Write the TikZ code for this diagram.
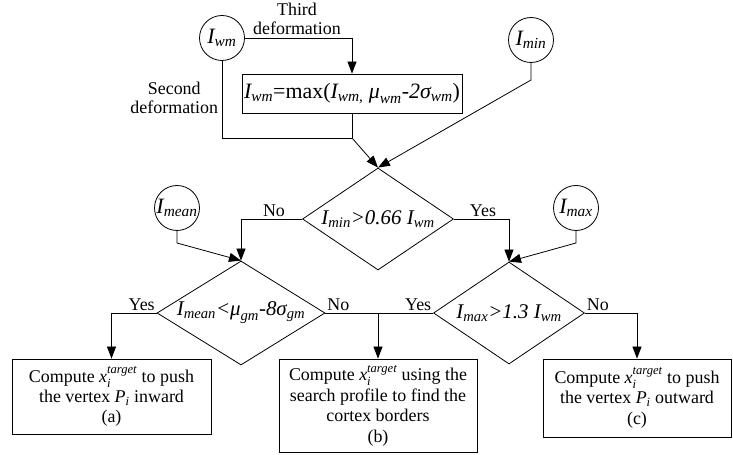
\documentclass[tikz,border=0pt]{standalone}
\usepackage{amsmath}
\usepackage{fontspec}
\setmainfont{Liberation Serif}
\usetikzlibrary{arrows.meta,shapes.geometric}
\newcommand{\vr}[2]{$\textit{#1}_{\textit{#2}}$}
\newcommand{\tgt}{$\textit{x}_{\textit{i}}^{\textit{target}}$}
\tikzset{
  circ/.style={draw, circle, minimum size=45bp, inner sep=0pt, font=\fontsize{22}{24}\selectfont},
  box/.style={draw, align=center, inner sep=0pt, font=\fontsize{18}{20.5}\selectfont},
  dia/.style={draw, diamond, inner sep=0pt},
  diatext/.style={font=\fontsize{21}{24}\selectfont\itshape, inner sep=0pt},
  lbl/.style={font=\fontsize{18}{19}\selectfont, align=center, inner sep=1.5bp},
  arrow/.style={-{Triangle[length=12bp,width=9bp]}}
}

\begin{document}
\begin{tikzpicture}[x=1bp, y=-1bp, line width=0.8bp]
  \useasboundingbox (0,0) rectangle (733,455);
  % inputs
  \node[circ] (iwm) at (222,38) {\vr{I}{wm}};
  \node[circ] (imin) at (531,40) {\vr{I}{min}};
  \node[circ] (imean) at (177,208) {\vr{I}{mean}};
  \node[circ] (imax) at (576,208) {\vr{I}{max}};
  \node[box, minimum width=220bp, minimum height=39bp, font=\fontsize{22}{24}\selectfont] (upd) at (352,93.5)
    {\vr{I}{wm}=max(\vr{I}{wm,} \vr{μ}{wm}\textit{-2}\vr{σ}{wm})};
  % tests
  \node[dia, minimum width=151bp, minimum height=102bp] (d1) at (378,219) {};
  \node[diatext] (d1t) at (d1) {\vr{I}{min}>0.66 \vr{I}{wm}};
  \node[dia, minimum width=168bp, minimum height=104bp] (d2) at (241,313) {};
  \node[diatext] (d2t) at (d2) {\vr{I}{mean}<\vr{μ}{gm}-8\vr{σ}{gm}};
  \node[dia, minimum width=151bp, minimum height=102bp] (d3) at (509,313) {};
  \node[diatext] (d3t) at (d3) {\vr{I}{max}>1.3 \vr{I}{wm}};
  % results
  \node[box, minimum width=199bp, minimum height=75bp] (boxa) at (111.5,396.5)
    {Compute \tgt{} to push\\the vertex \vr{P}{i} inward\\(a)};
  \node[box, minimum width=198bp, minimum height=93bp] (boxb) at (378,405.5)
    {Compute \tgt{} using the\\search profile to find the\\cortex borders\\(b)};
  \node[box, minimum width=188bp, minimum height=78bp] (boxc) at (637,398)
    {Compute \tgt{} to push\\the vertex \vr{P}{i} outward\\(c)};
  % top part
  \coordinate (join) at (352,138);
  \coordinate (minbend) at (531,80);
  \coordinate (meanbend) at (177,243);
  \coordinate (maxbend) at (576,243);
  \draw[arrow] (iwm.east) -| (upd.north);
  \node[lbl, anchor=south] (third) at (297,37) {Third\\deformation};
  \draw (iwm.south) |- (join);
  \node[lbl, anchor=east] (second) at (220,98) {Second\\deformation};
  \draw (upd.south) -- (join);
  \draw[arrow] (join) -- (d1.north);
  \draw[arrow] (imin.south) -- (minbend) -- (d1.north);
  % first test
  \draw[arrow] (d1.west) -| (d2.north);
  \node[lbl, anchor=south] (no1) at (274,219) {No};
  \draw[arrow] (d1.east) -| (d3.north);
  \node[lbl, anchor=south] (yes1) at (483,219) {Yes};
  \draw[arrow] (imean.south) -- (meanbend) -- (d2.north);
  \draw[arrow] (imax.south) -- (maxbend) -- (d3.north);
  % second and third tests
  \draw[arrow] (d2.west) -| (boxa.north);
  \node[lbl, anchor=south east] (yes2) at (d2.west) {Yes};
  \draw (d2.east) -- (d3.west);
  \node[lbl, anchor=south west] (no2) at (d2.east) {No};
  \draw[arrow] (d2.east -| boxb.north) -- (boxb.north);
  \node[lbl, anchor=south east] (yes3) at (d3.west) {Yes};
  \draw[arrow] (d3.east) -| (boxc.north);
  \node[lbl, anchor=south west] (no3) at (d3.east) {No};
\end{tikzpicture}
\end{document}
